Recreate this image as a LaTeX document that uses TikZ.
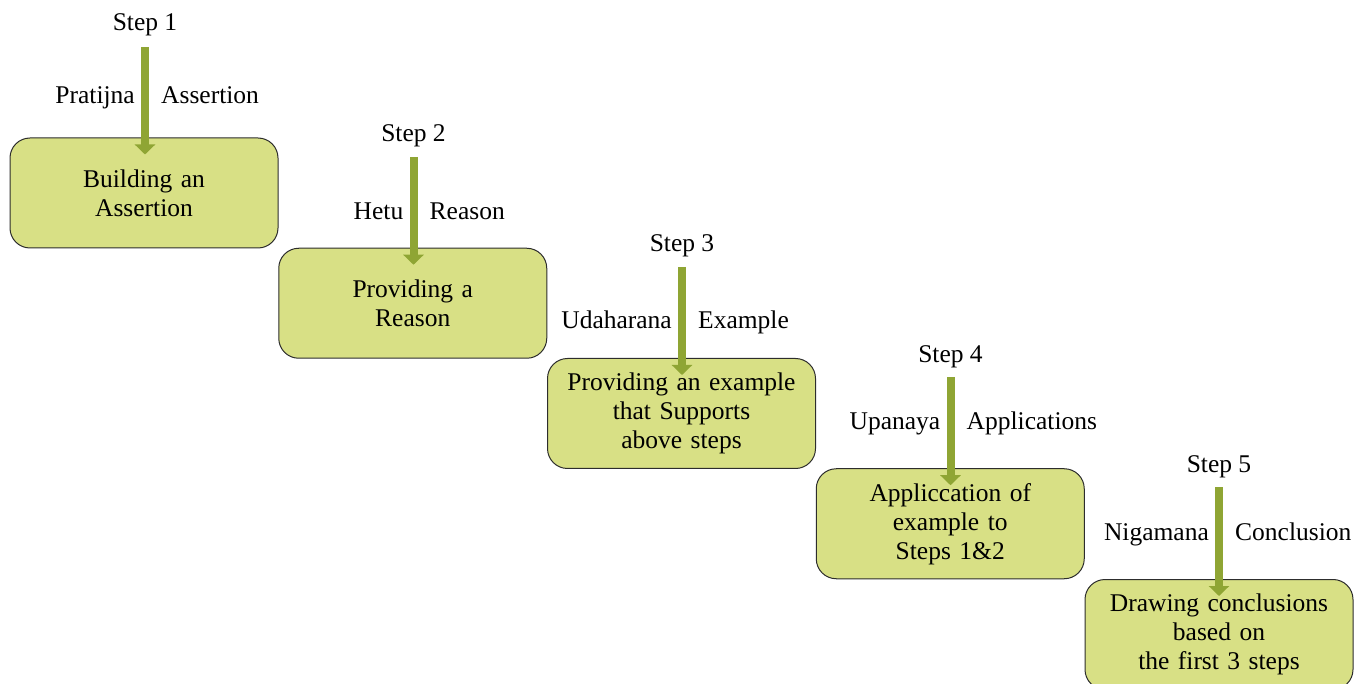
\documentclass[tikz,border=0pt]{standalone}
\usepackage{fontspec}
\setmainfont{Liberation Serif}
\usetikzlibrary{arrows.meta,calc}
\definecolor{boxfill}{RGB}{216,224,133}
\definecolor{arrowgreen}{RGB}{143,165,52}
\definecolor{boxline}{RGB}{45,45,45}
\tikzset{
  stepbox/.style={draw=boxline, line width=1pt, fill=boxfill, rounded corners=20pt,
    minimum width=268pt, minimum height=110pt, align=center, text width=260pt,
    inner sep=0pt, font=\fontsize{25.5}{29}\selectfont},
  steplabel/.style={anchor=base, inner sep=0pt, font=\fontsize{25.5}{29}\selectfont},
  sidelabel/.style={inner sep=0pt, font=\fontsize{25.5}{29}\selectfont},
  bigarrow/.style={draw=arrowgreen, line width=8pt, -{Triangle[width=20pt,length=10pt]}}
}
\begin{document}
\begin{tikzpicture}[x=1pt,y=-1pt]
\useasboundingbox (0,0) rectangle (1366,684);
% boxes
\node[stepbox] (b1) at (144,193) {Building an\\Assertion};
\node[stepbox] (b2) at (412.75,303.25) {Providing a\\Reason};
\node[stepbox] (b3) at (681.5,413.5) {Providing an example\\that Supports\\above steps};
\node[stepbox] (b4) at (950.25,523.75) {Appliccation of\\example to\\Steps 1\&2};
\node[stepbox] (b5) at (1219,634.5) {Drawing conclusions\\based on\\the first 3 steps};
% step labels
\node[steplabel] (s1) at (145,31) {Step 1};
\node[steplabel] (s2) at (413.5,141.5) {Step 2};
\node[steplabel] (s3) at (682,252) {Step 3};
\node[steplabel] (s4) at (950.5,362.5) {Step 4};
\node[steplabel] (s5) at (1219,473) {Step 5};
% arrow starts
\coordinate (a1) at (145,47);
\coordinate (a2) at (413.5,157);
\coordinate (a3) at (682,267);
\coordinate (a4) at (950.5,377);
\coordinate (a5) at (1219,487);
\draw[bigarrow] (a1) -- ($(a1 |- b1.north)+(0,17)$);
\draw[bigarrow] (a2) -- ($(a2 |- b2.north)+(0,17)$);
\draw[bigarrow] (a3) -- ($(a3 |- b3.north)+(0,17)$);
\draw[bigarrow] (a4) -- ($(a4 |- b4.north)+(0,17)$);
\draw[bigarrow] (a5) -- ($(a5 |- b5.north)+(0,17)$);
% side labels
\node[sidelabel, anchor=base east] (l1) at (135,104) {Pratijna};
\node[sidelabel, anchor=base west] (r1) at (161,104) {Assertion};
\node[sidelabel, anchor=base east] (l2) at (403.5,220) {Hetu};
\node[sidelabel, anchor=base west] (r2) at (429.5,220) {Reason};
\node[sidelabel, anchor=base east] (l3) at (672,329) {Udaharana};
\node[sidelabel, anchor=base west] (r3) at (698,329) {Example};
\node[sidelabel, anchor=base east] (l4) at (940.5,430) {Upanaya};
\node[sidelabel, anchor=base west] (r4) at (966.5,430) {Applications};
\node[sidelabel, anchor=base east] (l5) at (1209,540) {Nigamana};
\node[sidelabel, anchor=base west] (r5) at (1235,540) {Conclusion};
\end{tikzpicture}
\end{document}
